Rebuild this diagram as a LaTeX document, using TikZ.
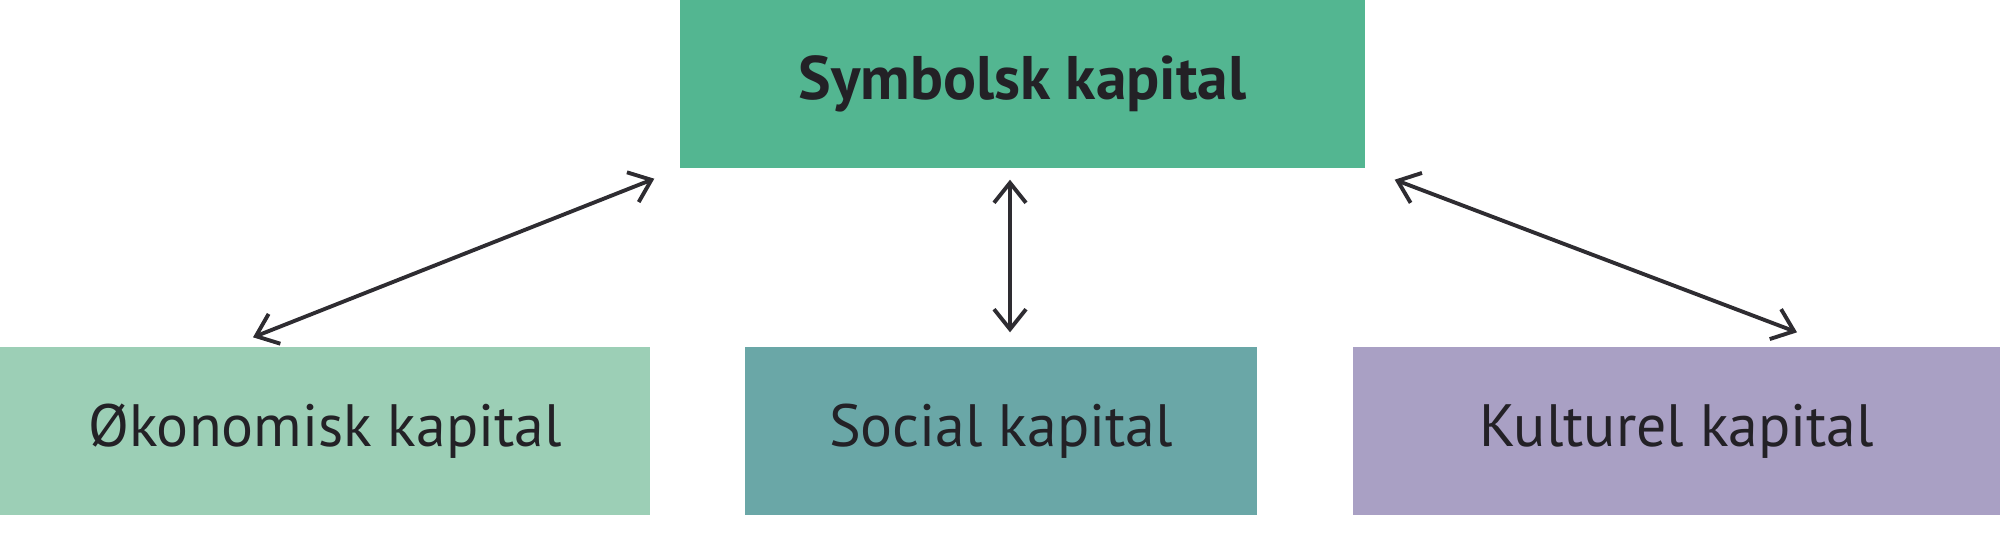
\documentclass[tikz,border=0pt]{standalone}
\usepackage{fontspec}
\setmainfont{PT Sans}
\usetikzlibrary{arrows.meta,calc}
\definecolor{topgreen}{RGB}{83,182,145}
\definecolor{lightgreen}{RGB}{156,207,182}
\definecolor{tealbox}{RGB}{106,167,167}
\definecolor{purplebox}{RGB}{169,160,196}
\definecolor{txt}{RGB}{35,33,38}
\tikzset{
  capbox/.style={draw=none, inner sep=0pt, text=txt, font=\fontsize{17}{20}\selectfont},
  link/.style={line width=1.1pt, draw=txt!95, {Straight Barb[length=2mm,width=3.2mm]}-{Straight Barb[length=2mm,width=3.2mm]}}
}
\begin{document}
\begin{tikzpicture}
\useasboundingbox (0,0) rectangle (20,5.56);
\fill[white] (0,0) rectangle (20,5.56);
\node[capbox, fill=topgreen, minimum width=6.85cm, minimum height=1.68cm, font=\fontsize{17.5}{20}\selectfont\bfseries] (sym) at (10.225,4.72) {Symbolsk kapital};
\node[capbox, fill=lightgreen, minimum width=6.50cm, minimum height=1.68cm] (oko) at (3.25,1.25) {Økonomisk kapital};
\node[capbox, fill=tealbox, minimum width=5.12cm, minimum height=1.68cm] (soc) at (10.01,1.25) {Social kapital};
\node[capbox, fill=purplebox, minimum width=6.47cm, minimum height=1.68cm] (kul) at (16.765,1.25) {Kulturel kapital};
\coordinate (a1) at ($(sym.south west)+(-0.25,-0.10)$);
\coordinate (b1) at ($(oko.north)+(-0.72,0.09)$);
\coordinate (a2) at ($(sym.south)+(-0.125,-0.11)$);
\coordinate (b2) at ($(soc.north)+(0.09,0.14)$);
\coordinate (a3) at ($(sym.south east)+(0.29,-0.11)$);
\coordinate (b3) at ($(kul.north)+(1.205,0.14)$);
\draw[link] (a1) -- (b1);
\draw[link] (a2) -- (b2);
\draw[link] (a3) -- (b3);
\end{tikzpicture}
\end{document}
